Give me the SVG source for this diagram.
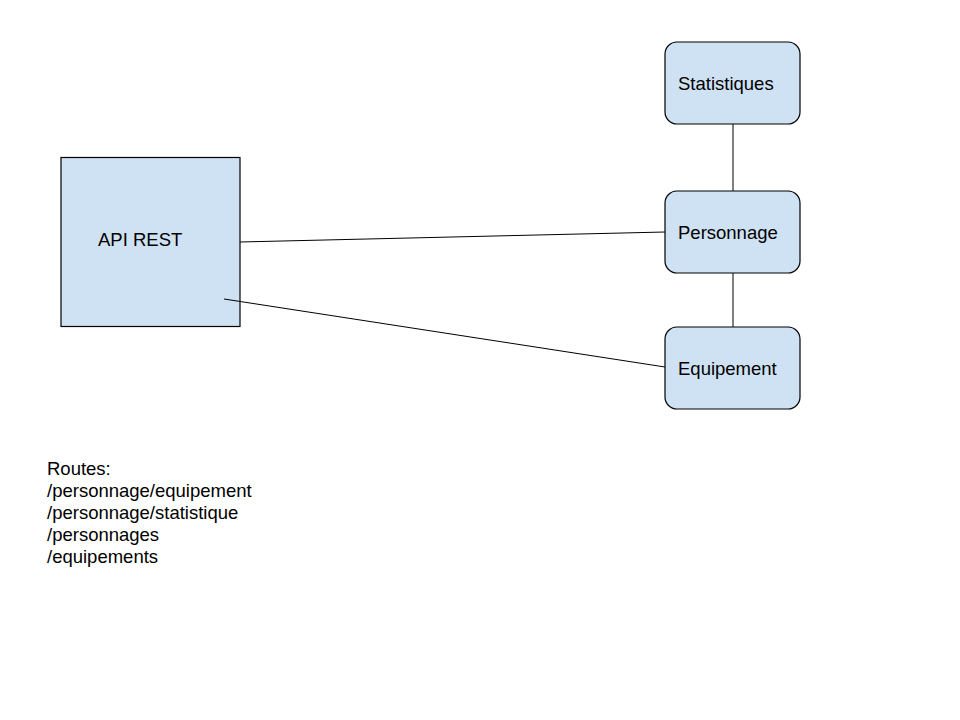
<svg xmlns="http://www.w3.org/2000/svg" width="960" height="720" viewBox="0 0 960 720">
<style>
.n{fill:#cfe2f3;stroke:#000;stroke-width:1.2}
.t{font-family:"Liberation Sans",Arial,sans-serif;font-size:18.5px;fill:#000}
.c{stroke:#000;stroke-width:1;fill:none}
</style>
<rect width="960" height="720" fill="#fff"/>
<g id="api">
<rect class="n" x="61" y="157.5" width="179" height="169"/>
<text class="t" x="98" y="246">API REST</text>
</g>
<g id="statistiques">
<rect class="n" x="665" y="42" width="135" height="82" rx="12"/>
<text class="t" x="678" y="90">Statistiques</text>
</g>
<g id="personnage">
<rect class="n" x="665" y="191" width="135" height="82" rx="12"/>
<text class="t" x="678" y="239">Personnage</text>
</g>
<g id="equipement">
<rect class="n" x="665" y="327" width="135" height="82" rx="12"/>
<text class="t" x="678" y="375">Equipement</text>
</g>
<g id="routes">
<text class="t" x="47" y="475">Routes:</text>
<text class="t" x="47" y="497">/personnage/equipement</text>
<text class="t" x="47" y="519">/personnage/statistique</text>
<text class="t" x="47" y="541">/personnages</text>
<text class="t" x="47" y="563">/equipements</text>
</g>
<g id="connectors">
<line class="c" x1="240" y1="242" x2="665" y2="232"/>
<line class="c" x1="224" y1="299" x2="665" y2="367"/>
<line class="c" x1="733" y1="124" x2="733" y2="191"/>
<line class="c" x1="733" y1="273" x2="733" y2="327"/>
</g>
</svg>
